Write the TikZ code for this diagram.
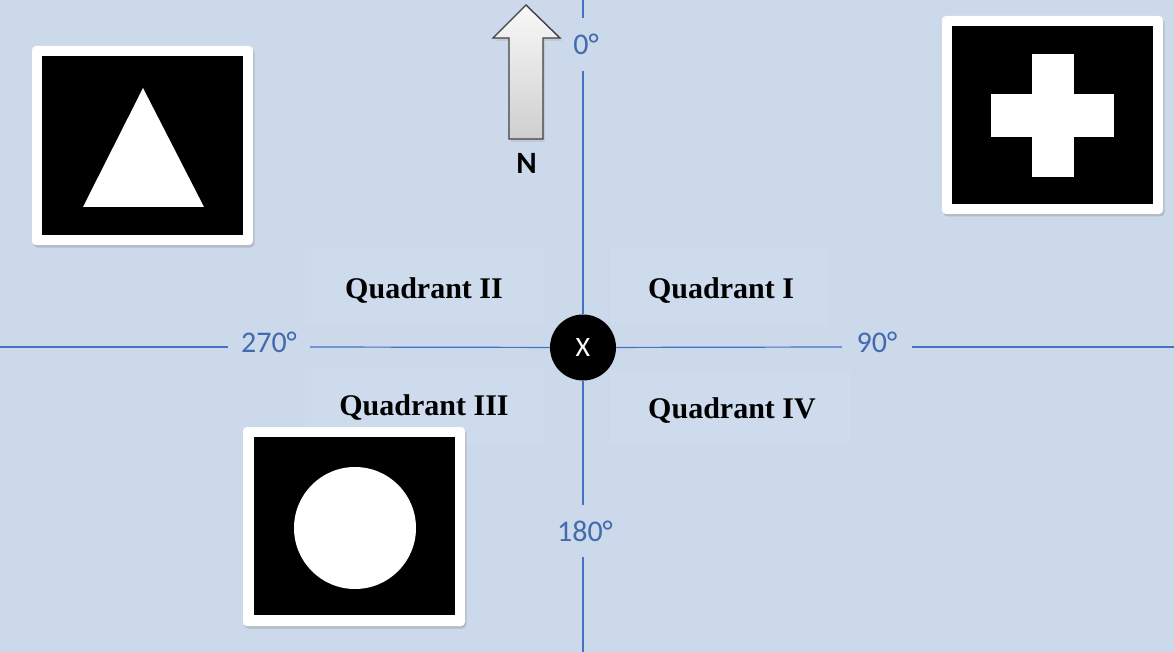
\documentclass[tikz,border=0pt]{standalone}
\usepackage{fontspec}
\setmainfont{Liberation Serif}
\newfontfamily\calib{Carlito}
\definecolor{bg}{RGB}{203,217,235}
\definecolor{lbbg}{RGB}{205,219,236}
\definecolor{axis}{RGB}{68,114,196}
\definecolor{deg}{RGB}{66,106,172}
\begin{document}
\begin{tikzpicture}[x=1pt,y=-1pt,
  axisline/.style={draw=axis,line width=1.2pt},
  deglabel/.style={text=deg,font=\calib\fontsize{30}{36}\selectfont,inner sep=0pt},
  quad/.style={anchor=base,font=\bfseries\fontsize{30}{36}\selectfont,inner sep=0pt},
  quadbox/.style={fill=lbbg},
  framebox/.style={fill=white,rounded corners=4pt},
  frameshadow/.style={fill=black!40,opacity=.45,rounded corners=4pt},
  ]
\fill[bg] (0,0) rectangle (1174,652);
\useasboundingbox (0,0) rectangle (1174,652);

% subtle text boxes behind quadrant labels
\fill[quadbox] (305,248) rectangle (545,325);
\fill[quadbox] (610,248) rectangle (828,325);
\fill[quadbox] (305,368) rectangle (545,445);
\fill[quadbox] (610,370) rectangle (850,445);

% degree labels
\node[deglabel,minimum width=44pt,minimum height=53pt] (d0) at (586,44.5) {0°};
\node[deglabel,minimum width=60pt,minimum height=52pt] (d180) at (585,531) {180°};
\node[deglabel,minimum width=82pt,minimum height=30pt] (d270) at (269,342) {270°};
\node[deglabel,minimum width=70pt,minimum height=30pt] (d90) at (877,342) {90°};

% centre
\node[circle,fill=black,minimum size=66pt,inner sep=0pt,text=white,
      font=\calib\fontsize{28}{32}\selectfont] (x) at (583,347.5) {X};

\coordinate (top) at (583,0);
\coordinate (bot) at (583,652);
\coordinate (lft) at (0,347);
\coordinate (rgt) at (1174,347);

\draw[axisline] (top) -- (top |- d0.north);
\draw[axisline] (top |- d0.south) -- (x);
\draw[axisline] (x) -- (bot |- d180.north);
\draw[axisline] (bot |- d180.south) -- (bot);
\draw[axisline] (lft) -- (d270.west |- lft);
\draw[axisline] (d270.east |- lft) -- (x);
\draw[axisline] (x) -- (d90.west |- rgt);
\draw[axisline] (d90.east |- rgt) -- (rgt);

% quadrant labels
\node[quad] (q2) at (424,298) {Quadrant II};
\node[quad] (q1) at (721,298) {Quadrant I};
\node[quad] (q3) at (424,415) {Quadrant III};
\node[quad] (q4) at (732,418) {Quadrant IV};

% north arrow
\fill[black!30,opacity=.4] (528,8) -- (562,41) -- (545,41) -- (545,142) -- (511,142) -- (511,41) -- (495,41) -- cycle;
\shade[top color=gray!5,bottom color=gray!38,draw=black!75,line width=1.4pt,line join=miter]
  (526,5) -- (560,38) -- (543,38) -- (543,139) -- (509,139) -- (509,38) -- (493,38) -- cycle;
\node[font=\calib\bfseries\fontsize{31}{36}\selectfont,inner sep=0pt] (n) at (526.5,163.5) {N};

% triangle picture
\fill[frameshadow] (33.5,48.5) rectangle (254.5,247.5);
\fill[framebox] (32,46) rectangle (253,245);
\fill[black] (42,56) rectangle (243,235);
\fill[white] (143,88) -- (83,207) -- (204,207) -- cycle;

% plus picture
\fill[frameshadow] (943.5,18.5) rectangle (1164.5,216.5);
\fill[framebox] (942,16) rectangle (1163,214);
\fill[black] (952,26) rectangle (1153,204);
\fill[white] (1032,54) rectangle (1074,177);
\fill[white] (991,94) rectangle (1114,137);

% circle picture
\fill[frameshadow] (244.5,429.5) rectangle (466.5,628.5);
\fill[framebox] (243,427) rectangle (465,626);
\fill[black] (254,437) rectangle (455,615);
\fill[white] (355,528) circle[radius=61];
\end{tikzpicture}
\end{document}
